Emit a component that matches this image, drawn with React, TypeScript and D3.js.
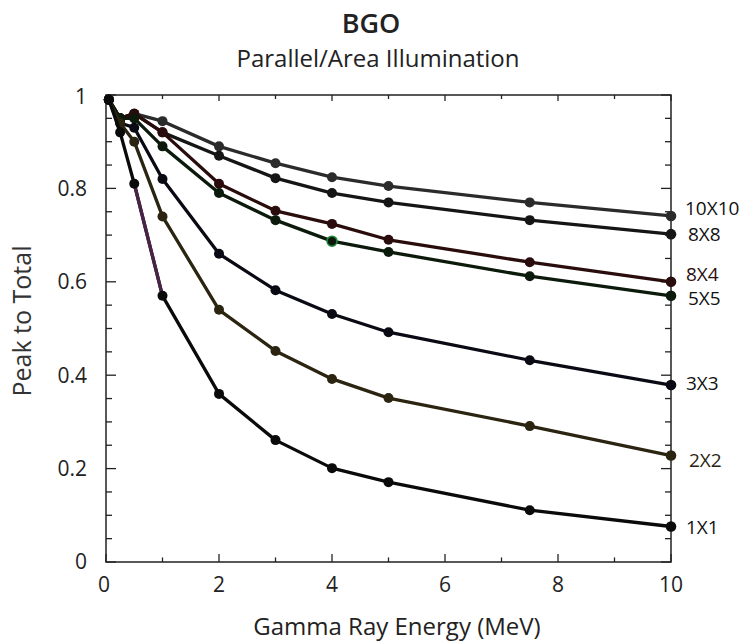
import React from "react";
import * as d3 from "d3";

const energies = [0.05, 0.25, 0.5, 1, 2, 3, 4, 5, 7.5, 10];
const seriesNames = ["10X10", "8X8", "8X4", "5X5", "3X3", "2X2", "1X1"];
const p10x10 = [0.99, 0.95, 0.96, 0.944, 0.89, 0.854, 0.824, 0.805, 0.77, 0.741];
const p8x8 = [0.99, 0.95, 0.96, 0.92, 0.87, 0.822, 0.79, 0.77, 0.732, 0.702];
const p8x4 = [0.99, 0.95, 0.96, 0.92, 0.81, 0.752, 0.724, 0.69, 0.642, 0.6];
const p5x5 = [0.99, 0.95, 0.95, 0.89, 0.79, 0.732, 0.687, 0.664, 0.612, 0.57];
const p3x3 = [0.99, 0.94, 0.93, 0.82, 0.66, 0.582, 0.531, 0.492, 0.432, 0.379];
const p2x2 = [0.99, 0.94, 0.9, 0.74, 0.54, 0.452, 0.392, 0.351, 0.291, 0.228];
const p1x1 = [0.99, 0.92, 0.81, 0.57, 0.36, 0.261, 0.201, 0.171, 0.111, 0.076];
const seriesValues = [p10x10, p8x8, p8x4, p5x5, p3x3, p2x2, p1x1];
const xTickLabels = ["0", "2", "4", "6", "8", "10"];
const yTickLabels = ["0", "0.2", "0.4", "0.6", "0.8", "1"];

// styling (not data)
const lineColors = ["#2b2b2b", "#151515", "#2a0c0c", "#0c1a0c", "#0a0a14", "#2a2410", "#0a0a0a"];
const labelColors = ["#111", "#111", "#2a1010", "#111", "#111", "#2a2410", "#111"];
const labelDy = [-8, 0, -7, 3, -2, 5, 1];
const labelDx = [0, 3, 1, 3, 1, 4, 1];

export default function App() {
  const W = 744, H = 643;
  const x = d3.scaleLinear().domain([0, 10]).range([106, 671]);
  const y = d3.scaleLinear().domain([0, 1]).range([562, 95]);
  const line = d3.line<[number, number]>().x(d => x(d[0])).y(d => y(d[1]));
  const xMajor = d3.range(0, 10.001, 2);
  const xMinor = d3.range(0, 10.001, 1);
  const yMajor = d3.range(0, 1.0001, 0.2);
  const yMinor = d3.range(0, 1.0001, 0.05);
  const font = "'Open Sans', sans-serif";
  const axisColor = "#222";

  return (
    <svg width={W} height={H} style={{ position: "absolute", left: 0, top: 0, background: "#fff" }}>
      <rect width={W} height={H} fill="#fff" />
      {/* titles */}
      <text x={371} y={33} textAnchor="middle" fontFamily={font} fontWeight={600} fontSize={27} fill="#222">BGO</text>
      <text x={378} y={67} textAnchor="middle" fontFamily={font} fontSize={24} fill="#222">Parallel/Area Illumination</text>

      {/* frame */}
      <rect x={x(0)} y={y(1)} width={x(10) - x(0)} height={y(0) - y(1)} fill="none" stroke={axisColor} strokeWidth={1.5} />

      {/* ticks */}
      {xMinor.map((t, i) => {
        const major = Math.abs(t % 2) < 1e-6;
        const L = major ? 8 : 4.5;
        return (
          <g key={"xt" + i} stroke={axisColor} strokeWidth={1.3}>
            <line x1={x(t)} x2={x(t)} y1={y(0)} y2={y(0) - L} />
            <line x1={x(t)} x2={x(t)} y1={y(1)} y2={y(1) + (major ? 6 : 4)} />
          </g>
        );
      })}
      {yMinor.map((t, i) => {
        const major = i % 4 === 0;
        const L = major ? 10 : 6;
        return (
          <g key={"yt" + i} stroke={axisColor} strokeWidth={1.3}>
            <line x1={x(0)} x2={x(0) + L} y1={y(t)} y2={y(t)} />
            <line x1={x(10)} x2={x(10) - L} y1={y(t)} y2={y(t)} />
          </g>
        );
      })}

      {/* tick labels */}
      {xMajor.map((t, i) => (
        <text key={"xl" + i} x={x(t) - (i === 0 ? 2 : 0)} y={585} dy="0.35em" textAnchor="middle" fontFamily={font} fontSize={21} fill="#222">{xTickLabels[i]}</text>
      ))}
      {yMajor.map((t, i) => (
        <text key={"yl" + i} x={87} y={y(t) + (i === 5 ? 2 : 0)} dy="0.35em" textAnchor="end" fontFamily={font} fontSize={21} fill="#222">{yTickLabels[i]}</text>
      ))}

      {/* axis titles */}
      <text x={397} y={635} textAnchor="middle" fontFamily={font} fontSize={24} fill="#222">Gamma Ray Energy (MeV)</text>
      <text transform={`translate(22,321) rotate(-90)`} dy="0.35em" textAnchor="middle" fontFamily={font} fontSize={25} fill="#333">Peak to Total</text>

      {/* series */}
      {seriesValues.map((vals, si) => {
        const pts: [number, number][] = vals.map((v, i) => [energies[i], v]);
        return (
          <g key={"s" + si}>
            <path d={line(pts) || ""} fill="none" stroke={lineColors[si]} strokeWidth={3.3} strokeLinejoin="round" />
            {si === 6 && (
              <path d={line(pts.slice(2, 4)) || ""} fill="none" stroke="#4a2448" strokeWidth={3.3} />
            )}
            {pts.map((p, i) => (
              <circle key={i} cx={x(p[0])} cy={y(p[1])} r={i === pts.length - 1 ? 5.3 : 5}
                fill={lineColors[si]}
                stroke={si === 3 && p[0] === 4 ? "#1f8a3c" : "none"} strokeWidth={1.5} />
            ))}
            <text x={685 + labelDx[si]} y={y(vals[vals.length - 1]) + labelDy[si]} dy="0.35em"
              fontFamily={font} fontSize={19} fill={labelColors[si]}>{seriesNames[si]}</text>
          </g>
        );
      })}
    </svg>
  );
}
